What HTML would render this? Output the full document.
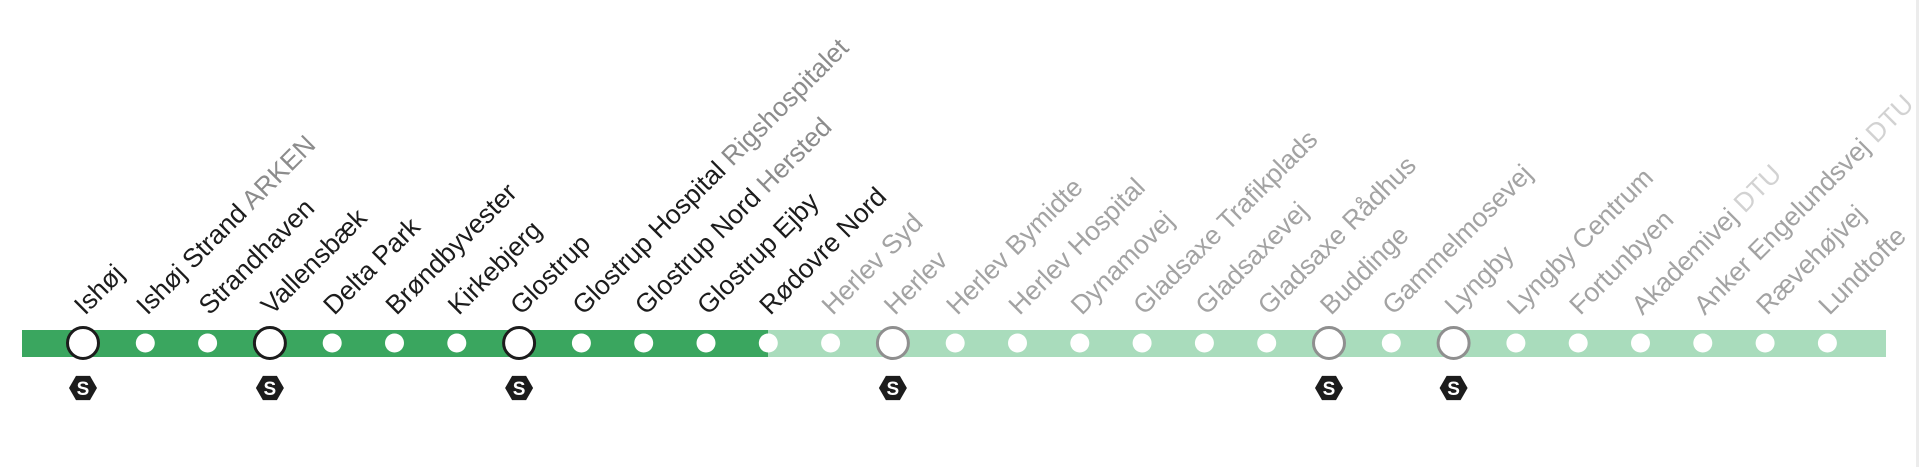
<!DOCTYPE html>
<html><head><meta charset="utf-8"><style>
html,body{margin:0;padding:0;background:#fff;width:1920px;height:467px;overflow:hidden}
svg{display:block}
text{font-family:"Liberation Sans",sans-serif;font-size:26.5px}
</style></head><body>
<svg width="1920" height="467" viewBox="0 0 1920 467" xmlns="http://www.w3.org/2000/svg">
<rect x="1916" y="0" width="3" height="467" fill="#ececec"/>
<rect x="22" y="330" width="746" height="27" fill="#3aa65f"/>
<rect x="768" y="330" width="1118" height="27" fill="#a9dcbc"/>
<g id="st"></g>
</svg>
<script>
const st=[["Ishøj","",1],["Ishøj Strand","ARKEN",0],["Strandhaven","",0],["Vallensbæk","",1],["Delta Park","",0],["Brøndbyvester","",0],["Kirkebjerg","",0],["Glostrup","",1],["Glostrup Hospital","Rigshospitalet",0],["Glostrup Nord","Hersted",0],["Glostrup Ejby","",0],["Rødovre Nord","",0],["Herlev Syd","",0],["Herlev","",1],["Herlev Bymidte","",0],["Herlev Hospital","",0],["Dynamovej","",0],["Gladsaxe Trafikplads","",0],["Gladsaxevej","",0],["Gladsaxe Rådhus","",0],["Buddinge","",1],["Gammelmosevej","",0],["Lyngby","",1],["Lyngby Centrum","",0],["Fortunbyen","",0],["Akademivej","DTU",0],["Anker Engelundsvej","DTU",0],["Rævehøjvej","",0],["Lundtofte","",0]];
let h="";
st.forEach((s,i)=>{
 const x=83+i*62.3, dark=i<=11;
 const c1=dark?"#1c1c1c":"#a3a3a3", c2=dark?"#8c8c8c":"#d2d2d2";
 h+=`<text transform="translate(${x+2},316) rotate(-45)" fill="${c1}">${s[0]}${s[1]?` <tspan fill="${c2}">${s[1]}</tspan>`:""}</text>`;
 if(s[2]){
  h+=`<circle cx="${x}" cy="343" r="15.5" fill="#fff" stroke="${dark?"#1c1c1c":"#8f8f8f"}" stroke-width="3"/>`;
  let p=[];for(let k=0;k<6;k++){const a=Math.PI/3*k;p.push((x+14*Math.cos(a)).toFixed(1)+","+(388+14*Math.sin(a)).toFixed(1));}
  h+=`<polygon points="${p.join(" ")}" fill="#1c1c1c"/><text x="${x}" y="395" text-anchor="middle" fill="#fff" style="font-size:19px;font-weight:bold">S</text>`;
 } else {
  h+=`<circle cx="${x}" cy="343" r="9.5" fill="#fff"/>`;
 }
});
document.getElementById("st").innerHTML=h;
</script>
</body></html>
